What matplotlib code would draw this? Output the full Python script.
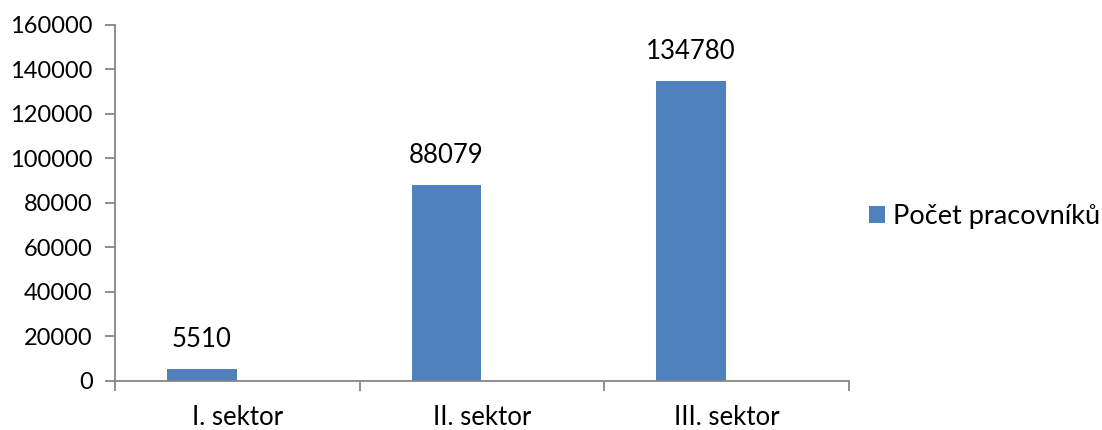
import matplotlib
matplotlib.use("Agg")
import matplotlib.pyplot as plt
import numpy as np

categories = ["I. sektor", "II. sektor", "III. sektor"]
values = [5510, 88079, 134780]
series_name = "Počet pracovníků"
yticks = [0, 20000, 40000, 60000, 80000, 100000, 120000, 140000, 160000]

plt.rcParams['font.family'] = ['Lato', 'DejaVu Sans']
fig = plt.figure(figsize=(11.02, 4.30), dpi=100)
ax = fig.add_axes([0.1044, 0.114, 0.666, 0.828])

bar_color = "#4F81BD"
axis_color = "#868686"
x = np.arange(len(categories))
width = 0.285
bars = ax.bar(x - width / 2 - 0.003, values, width=width, color=bar_color, label=series_name)

for xi, v in zip(x - width / 2 - 0.003, values):
    ax.annotate(str(v), (xi, v), xytext=(0, 12), textcoords="offset points",
                ha="center", va="bottom", fontsize=18.5, color="black")

ax.set_xlim(-0.5, len(categories) - 0.5)
ax.set_ylim(0, 160000)
ax.set_yticks(yticks)
ax.set_yticklabels([str(t) for t in yticks], fontsize=17)

ax.set_xticks(np.arange(len(categories) + 1) - 0.5)
ax.set_xticklabels([])
ax.set_xticks(x, minor=True)
ax.set_xticklabels(categories, minor=True, fontsize=18.5)
ax.tick_params(axis='x', which='minor', length=0, pad=17)
ax.tick_params(axis='x', which='major', length=7, color=axis_color, width=1.3)
ax.tick_params(axis='y', length=7, color=axis_color, width=1.3, pad=9)

for s in ["top", "right"]:
    ax.spines[s].set_visible(False)
for s in ["left", "bottom"]:
    ax.spines[s].set_color(axis_color)
    ax.spines[s].set_linewidth(1.3)

leg = fig.legend(handles=[bars], labels=[series_name], loc="center left",
                 bbox_to_anchor=(0.7886, 0.497), frameon=False, fontsize=19.5,
                 handlelength=0.6, handleheight=0.6, handletextpad=0.27,
                 borderpad=0, borderaxespad=0)

fig.savefig("out.png", dpi=100)
